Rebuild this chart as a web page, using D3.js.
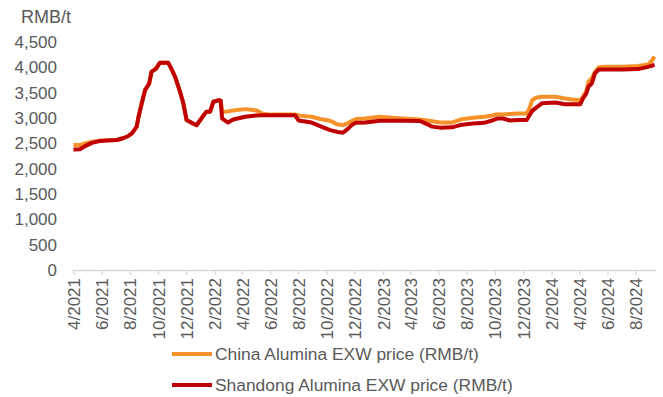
<!DOCTYPE html>
<html>
<head>
<meta charset="utf-8">
<script src="https://cdn.jsdelivr.net/npm/d3@7/dist/d3.min.js"></script>
<style>
  html, body { margin: 0; padding: 0; background: #fff; }
  svg { display: block; font-family: "Liberation Sans", Arial, sans-serif; }
</style>
</head>
<body>
<svg id="chart" width="663" height="397"></svg>
<script>
// Observation dates (shared by both series)
const dates = [
  "2021-04-01","2021-04-15","2021-04-26","2021-05-11","2021-05-28","2021-06-19","2021-07-04","2021-07-17",
  "2021-07-28","2021-08-06","2021-08-16","2021-08-20","2021-08-26","2021-09-03","2021-09-12","2021-09-17",
  "2021-09-27","2021-10-05","2021-10-23","2021-10-30","2021-11-07","2021-11-12","2021-11-18","2021-11-25",
  "2021-12-02","2021-12-13","2021-12-24","2022-01-03","2022-01-14","2022-01-22","2022-01-29","2022-02-10",
  "2022-02-14","2022-02-17","2022-03-02","2022-03-13","2022-04-08","2022-05-02","2022-05-15","2022-05-28",
  "2022-07-25","2022-08-02","2022-08-30","2022-09-20","2022-10-09","2022-10-26","2022-11-06","2022-11-17",
  "2022-11-26","2022-12-04","2022-12-24","2023-01-25","2023-03-16","2023-04-22","2023-05-07","2023-05-18",
  "2023-06-04","2023-06-30","2023-07-18","2023-08-15","2023-09-08","2023-09-23","2023-10-06","2023-10-19",
  "2023-11-03","2023-11-20","2023-12-09","2023-12-15","2023-12-21","2023-12-29","2024-01-11","2024-02-09",
  "2024-03-01","2024-03-17","2024-04-03","2024-04-09","2024-04-16","2024-04-21","2024-04-28","2024-05-05",
  "2024-05-13","2024-05-27","2024-07-03","2024-08-06","2024-08-28","2024-09-05","2024-09-11"
];

// China Alumina EXW price (RMB/t)
const chinaPrice = [
  2465,2465,2500,2530,2550,2560,2565,2600,
  2640,2700,2830,3025,3255,3550,3680,3910,
  3975,4090,4090,3975,3815,3680,3515,3290,
  2960,2905,2860,2990,3125,3125,3320,3350,
  3340,3125,3130,3150,3175,3150,3090,3070,
  3070,3050,3025,2975,2945,2870,2860,2900,
  2945,2980,2990,3025,2990,2970,2950,2935,
  2910,2910,2970,3005,3025,3045,3075,3070,
  3080,3090,3090,3190,3350,3400,3420,3420,
  3385,3365,3350,3420,3530,3715,3780,3910,
  4000,4010,4010,4025,4055,4130,4210
];

// Shandong Alumina EXW price (RMB/t)
const shandongPrice = [
  2380,2385,2445,2510,2545,2560,2565,2600,
  2640,2700,2830,3025,3255,3550,3680,3910,
  3975,4090,4090,3975,3815,3680,3515,3290,
  2960,2905,2860,2990,3125,3125,3320,3350,
  3340,2990,2910,2970,3025,3050,3055,3055,
  3055,2950,2910,2830,2760,2725,2710,2790,
  2870,2905,2910,2945,2945,2940,2880,2830,
  2810,2815,2860,2890,2905,2945,2990,2990,
  2950,2960,2960,3050,3140,3200,3290,3305,
  3270,3270,3270,3385,3480,3620,3680,3880,
  3955,3955,3955,3965,4010,4030,4055
];

// Axis ticks
const xTickDates = [
  "2021-04-01","2021-06-01","2021-08-01","2021-10-01","2021-12-01","2022-02-01","2022-04-01",
  "2022-06-01","2022-08-01","2022-10-01","2022-12-01","2023-02-01","2023-04-01","2023-06-01",
  "2023-08-01","2023-10-01","2023-12-01","2024-02-01","2024-04-01","2024-06-01","2024-08-01"
];
const yTicks = [0, 500, 1000, 1500, 2000, 2500, 3000, 3500, 4000, 4500];

const seriesNames = ["China Alumina EXW price (RMB/t)", "Shandong Alumina EXW price (RMB/t)"];
const seriesColors = ["#F7922A", "#C00000"];
const unitLabel = "RMB/t";

const parse = d3.utcParse("%Y-%m-%d");
const fmt = d3.utcFormat("%-m/%Y");
const svg = d3.select("#chart");
const textColor = "#595959";
const axisColor = "#D9D9D9";

const x = d3.scaleUtc()
  .domain([parse(dates[0]), parse(dates[dates.length - 1])])
  .range([73.5, 654.5]);
const y = d3.scaleLinear().domain([0, 4500]).range([270, 42]);

// X axis
const xAxis = d3.axisBottom(x)
  .tickValues(xTickDates.map(parse))
  .tickFormat(fmt)
  .tickSize(5)
  .tickSizeOuter(0);
const gx = svg.append("g").attr("transform", `translate(0,${y(0)})`).call(xAxis);
gx.select(".domain").attr("stroke", axisColor).attr("stroke-width", 1.3)
  .attr("d", `M${x.range()[0] - 1},0.5H${x.range()[1] + 2}`);
gx.selectAll(".tick line").attr("stroke", axisColor).attr("stroke-width", 1.3);
gx.selectAll(".tick text")
  .attr("fill", textColor)
  .style("font-size", "17px")
  .attr("text-anchor", "end")
  .attr("transform", "rotate(-90)")
  .attr("x", -8)
  .attr("y", 0)
  .attr("dy", "0.36em");

// Y axis (labels only)
const gy = svg.append("g").attr("transform", "translate(57,0)")
  .call(d3.axisLeft(y).tickValues(yTicks).tickFormat(d3.format(",")).tickSize(0));
gy.select(".domain").remove();
gy.selectAll(".tick text")
  .attr("fill", textColor)
  .style("font-size", "17px")
  .attr("x", 0);

svg.append("text")
  .attr("x", 21).attr("y", 23)
  .attr("fill", textColor)
  .style("font-size", "18px")
  .text(unitLabel);

// Lines
const line = vals => d3.line()
  .x((d, i) => x(parse(dates[i])))
  .y(d => y(d))(vals);

[chinaPrice, shandongPrice].forEach((vals, k) => {
  svg.append("path")
    .attr("d", line(vals))
    .attr("fill", "none")
    .attr("stroke", seriesColors[k])
    .attr("stroke-width", 4)
    .attr("stroke-linejoin", "round");
});

// Legend
const legend = svg.append("g");
seriesNames.forEach((name, k) => {
  const ly = 354 + k * 31;
  legend.append("line")
    .attr("x1", 172).attr("x2", 212).attr("y1", ly).attr("y2", ly)
    .attr("stroke", seriesColors[k]).attr("stroke-width", 4);
  legend.append("text")
    .attr("x", 215).attr("y", ly).attr("dy", "0.36em")
    .attr("fill", textColor)
    .style("font-size", "17.4px")
    .text(name);
});
</script>
</body>
</html>
